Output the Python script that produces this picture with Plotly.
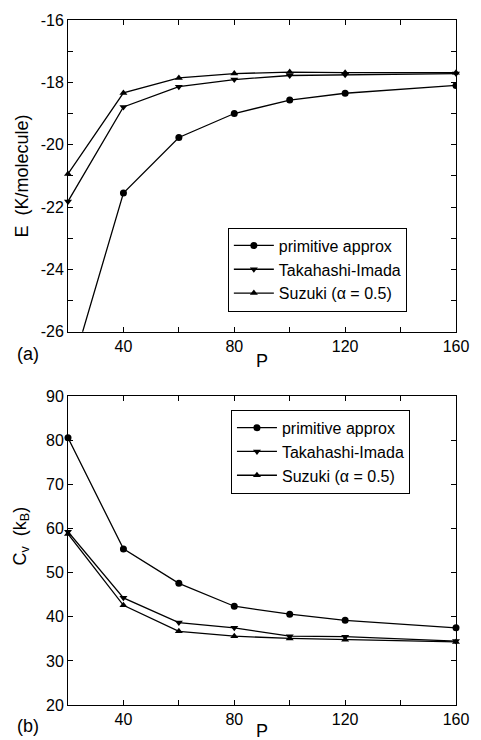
import plotly.graph_objects as go

P = [20, 40, 60, 80, 100, 120, 160]

E_primitive = [-27.6, -21.55, -19.77, -19.0, -18.57, -18.35, -18.1]
E_takahashi = [-21.82, -18.79, -18.14, -17.91, -17.78, -17.76, -17.72]
E_suzuki = [-20.94, -18.34, -17.86, -17.72, -17.67, -17.69, -17.69]

Cv_primitive = [80.6, 55.4, 47.6, 42.4, 40.6, 39.2, 37.5]
Cv_takahashi = [59.3, 44.3, 38.7, 37.5, 35.6, 35.5, 34.5]
Cv_suzuki = [58.8, 42.6, 36.7, 35.6, 35.1, 34.8, 34.3]

names = ["primitive approx", "Takahashi-Imada", "Suzuki (\u03b1 = 0.5)"]
symbols = ["circle", "triangle-down", "triangle-up"]

x_tickvals = [40, 60, 80, 100, 120, 140, 160]
x_ticktext = ["40", "", "80", "", "120", "", "160"]
E_tickvals = [-26, -25, -24, -23, -22, -21, -20, -19, -18, -17, -16]
E_ticktext = ["-26", "", "-24", "", "-22", "", "-20", "", "-18", "", "-16"]
Cv_tickvals = [20, 30, 40, 50, 60, 70, 80, 90]

FONT = "Liberation Sans, Arial, sans-serif"

fig = go.Figure()
for i, (ys, nm, sym) in enumerate(zip([E_primitive, E_takahashi, E_suzuki], names, symbols)):
    fig.add_trace(go.Scatter(
        x=P, y=ys, mode="lines+markers", name=nm,
        line=dict(color="black", width=1.3),
        marker=dict(symbol=sym, size=7, color="black"),
        xaxis="x", yaxis="y", legend="legend",
        cliponaxis=(i == 0),
    ))
for i, (ys, nm, sym) in enumerate(zip([Cv_primitive, Cv_takahashi, Cv_suzuki], names, symbols)):
    fig.add_trace(go.Scatter(
        x=P, y=ys, mode="lines+markers", name=nm,
        line=dict(color="black", width=1.3),
        marker=dict(symbol=sym, size=7, color="black"),
        xaxis="x2", yaxis="y2", legend="legend2",
        cliponaxis=False,
    ))

axis_common = dict(
    showline=True, linecolor="black", linewidth=1, mirror="ticks",
    ticks="inside", ticklen=5, tickcolor="black", tickwidth=1,
    showgrid=False, zeroline=False,
    tickfont=dict(family=FONT, size=16, color="black"),
)

top_dom = [0.545, 1.0]
bot_dom = [0.0, 0.4506]

legend_common = dict(
    xanchor="left", yanchor="top", xref="paper", yref="paper",
    bgcolor="white", bordercolor="black", borderwidth=1,
    font=dict(family=FONT, size=16, color="black"),
    itemwidth=40, tracegroupgap=0,
)

fig.update_layout(
    width=481, height=740,
    margin=dict(l=68, r=16, t=17, b=35),
    paper_bgcolor="white", plot_bgcolor="white",
    font=dict(family=FONT, color="black"),
    xaxis=dict(range=[20, 160], tickvals=x_tickvals, ticktext=x_ticktext,
               domain=[0, 1], anchor="y", **axis_common),
    yaxis=dict(range=[-26, -16], tickvals=E_tickvals, ticktext=E_ticktext,
               domain=top_dom, anchor="x", **axis_common),
    xaxis2=dict(range=[20, 160], tickvals=x_tickvals, ticktext=x_ticktext,
                domain=[0, 1], anchor="y2", **axis_common),
    yaxis2=dict(range=[20, 90], tickvals=Cv_tickvals,
                domain=bot_dom, anchor="x2", **axis_common),
    legend=dict(x=0.412, y=0.697, **legend_common),
    legend2=dict(x=0.42, y=0.431, **legend_common),
    showlegend=True,
)

ann_font = dict(family=FONT, size=18, color="black")
fig.add_annotation(text="(a)", x=-0.103, y=0.513, xref="paper", yref="paper",
                   showarrow=False, font=ann_font, xanchor="center", yanchor="middle")
fig.add_annotation(text="(b)", x=-0.103, y=-0.031, xref="paper", yref="paper",
                   showarrow=False, font=ann_font, xanchor="center", yanchor="middle")
fig.add_annotation(text="P", x=0.5, y=0.502, xref="paper", yref="paper",
                   showarrow=False, font=ann_font, xanchor="center", yanchor="middle")
fig.add_annotation(text="P", x=0.5, y=-0.038, xref="paper", yref="paper",
                   showarrow=False, font=ann_font, xanchor="center", yanchor="middle")
fig.add_annotation(text="E  (K/molecule)", x=-0.116, y=0.773, xref="paper", yref="paper",
                   showarrow=False, font=ann_font, textangle=-90,
                   xanchor="center", yanchor="middle")
fig.add_annotation(text="C<sub>v</sub>  (k<sub>B</sub>)", x=-0.121, y=0.246,
                   xref="paper", yref="paper",
                   showarrow=False, font=ann_font, textangle=-90,
                   xanchor="center", yanchor="middle")

fig.write_html("out.html")
